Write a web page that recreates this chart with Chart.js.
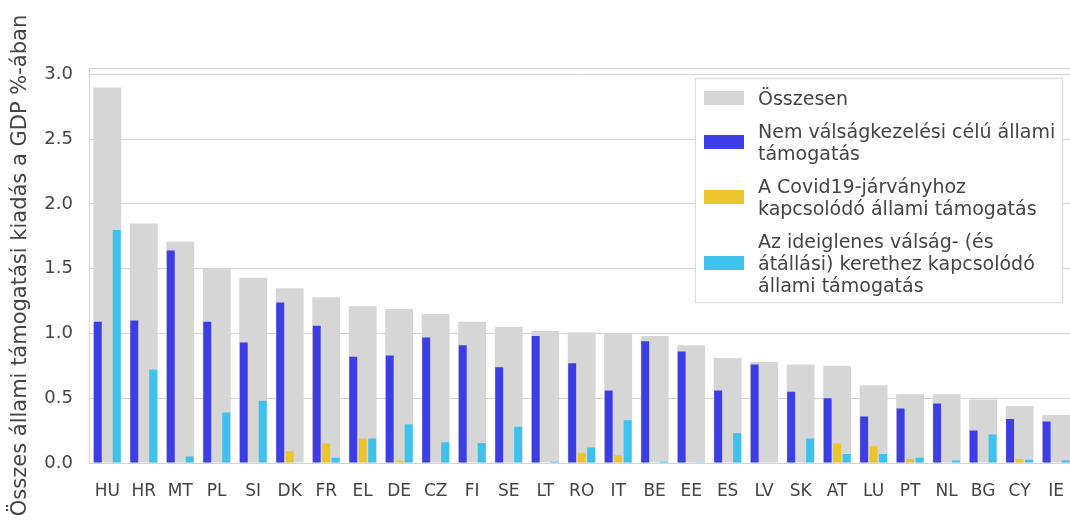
<!DOCTYPE html>
<html>
<head>
<meta charset="utf-8">
<script src="https://cdn.jsdelivr.net/npm/chart.js@4/dist/chart.umd.min.js"></script>
<style>
  html, body { margin: 0; padding: 0; background: #fff; overflow: hidden; }
  #wrap { position: relative; width: 1082px; height: 525px; }
  #legend {
    position: absolute; left: 695px; top: 78px; width: 368px; height: 225px;
    box-sizing: border-box; border: 1px solid #dcdcdc; background: #fff;
    box-shadow: 0 0 2px rgba(0,0,0,0.08);
    font-family: "DejaVu Sans", Verdana, sans-serif; font-size: 19px; line-height: 22px; color: #444;
    padding-top: 8px;
  }
  .item { display: flex; align-items: center; margin-bottom: 11px; }
  .sw { width: 40px; height: 14px; margin-left: 8px; margin-right: 14px; flex: none; }
</style>
</head>
<body>
<div id="wrap">
  <canvas id="chart"></canvas>
  <div id="legend"></div>
</div>
<script>
// Data
const countries = ['HU','HR','MT','PL','SI','DK','FR','EL','DE','CZ','FI','SE','LT','RO','IT','BE','EE','ES','LV','SK','AT','LU','PT','NL','BG','CY','IE'];
const total = [2.90,1.85,1.71,1.50,1.43,1.35,1.28,1.21,1.19,1.15,1.09,1.05,1.02,1.01,1.00,0.98,0.91,0.81,0.78,0.76,0.75,0.60,0.53,0.53,0.49,0.44,0.37];
const nonCrisis = [1.09,1.10,1.64,1.09,0.93,1.24,1.06,0.82,0.83,0.97,0.91,0.74,0.98,0.77,0.56,0.94,0.86,0.56,0.76,0.55,0.50,0.36,0.42,0.46,0.25,0.34,0.32];
const covid = [0,0,0,0,0,0.09,0.15,0.19,0.02,0,0,0,0,0.08,0.06,0,0,0,0,0,0.15,0.13,0.03,0,0,0.03,0];
const tcf = [1.80,0.72,0.05,0.39,0.48,0,0.04,0.19,0.30,0.16,0.155,0.28,0.01,0.12,0.33,0.01,0.005,0.23,0,0.19,0.07,0.07,0.04,0.02,0.22,0.025,0.02];
const yTicks = [0, 0.5, 1.0, 1.5, 2.0, 2.5, 3.0];

const seriesLabels = [
    ['Összesen'],
    ['Nem válságkezelési célú állami', 'támogatás'],
    ['A Covid19-járványhoz', 'kapcsolódó állami támogatás'],
    ['Az ideiglenes válság- (és', 'átállási) kerethez kapcsolódó', 'állami támogatás']
];

const colors = {
    grey: '#d6d6d6',
    blue: '#3d3de6',
    yellow: '#ecc42c',
    cyan: '#3cc2ec',
    grid: '#d4d4d4',
    text: '#444444'
};

const fontFamily = '"DejaVu Sans", Verdana, sans-serif';

// frame round the plot area (top edge is not drawn by the axes)
const framePlugin = {
    id: 'frame',
    beforeDatasetsDraw(chart) {
        const a = chart.chartArea;
        const ctx = chart.ctx;
        ctx.save();
        ctx.strokeStyle = colors.grid;
        ctx.lineWidth = 1;
        ctx.beginPath();
        ctx.moveTo(a.left + 0.5, a.bottom);
        ctx.lineTo(a.left + 0.5, a.top + 0.5);
        ctx.lineTo(a.right, a.top + 0.5);
        ctx.stroke();
        ctx.restore();
    }
};

const ctx = document.getElementById('chart');
const chart = new Chart(ctx, {
    type: 'bar',
    data: {
        labels: countries,
        datasets: [
            // total sits behind the three component bars, not grouped with them
            { label: seriesLabels[0], data: total, backgroundColor: colors.grey, order: 2,
              grouped: false, categoryPercentage: 0.764, barPercentage: 1.0 },
            { label: seriesLabels[1], data: nonCrisis, backgroundColor: colors.blue, order: 1,
              categoryPercentage: 0.78, barPercentage: 0.84 },
            { label: seriesLabels[2], data: covid, backgroundColor: colors.yellow, order: 1,
              categoryPercentage: 0.78, barPercentage: 0.84 },
            { label: seriesLabels[3], data: tcf, backgroundColor: colors.cyan, order: 1,
              categoryPercentage: 0.78, barPercentage: 0.84 }
        ]
    },
    options: {
        responsive: true,
        maintainAspectRatio: false,
        animation: false,
        layout: { padding: { top: 68, right: 2, left: 0, bottom: 0 } },
        plugins: {
            legend: { display: false },
            tooltip: { enabled: false }
        },
        scales: {
            x: {
                grid: { display: false, drawTicks: false },
                border: { display: true, color: colors.grid },
                ticks: { color: colors.text, font: { family: fontFamily, size: 17 }, padding: 18, maxRotation: 0, autoSkip: false },
                afterFit(scale) { scale.height = 62; }
            },
            y: {
                min: 0,
                max: 3.05,
                grid: { color: colors.grid, drawTicks: false },
                border: { display: false },
                afterBuildTicks(scale) {
                    scale.ticks = yTicks.map(v => ({ value: v }));
                },
                ticks: {
                    color: colors.text,
                    font: { family: fontFamily, size: 18 },
                    padding: 16,
                    callback: v => v.toFixed(1)
                },
                title: {
                    display: true,
                    text: 'Összes állami támogatási kiadás a GDP %-ában',
                    color: colors.text,
                    font: { family: fontFamily, size: 21 },
                    padding: { top: 8, bottom: 0 }
                },
                afterFit(scale) { scale.width = 89; }
            }
        }
    },
    plugins: [framePlugin]
});

// legend box inside the plot, built from the datasets
const legendEl = document.getElementById('legend');
chart.data.datasets.forEach(ds => {
    const item = document.createElement('div');
    item.className = 'item';
    const sw = document.createElement('span');
    sw.className = 'sw';
    sw.style.background = ds.backgroundColor;
    const txt = document.createElement('div');
    txt.innerHTML = ds.label.join('<br>');
    item.appendChild(sw);
    item.appendChild(txt);
    legendEl.appendChild(item);
});
</script>
</body>
</html>
